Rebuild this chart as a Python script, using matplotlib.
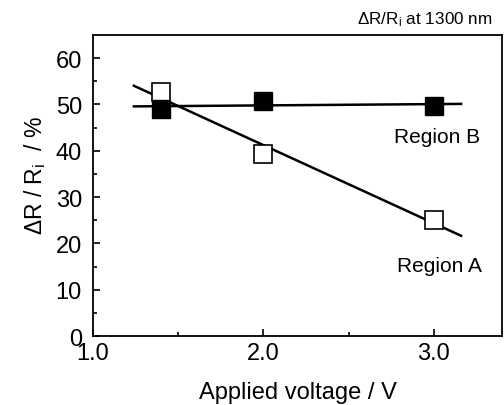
import numpy as np
import matplotlib
matplotlib.use("Agg")
import matplotlib.pyplot as plt

plt.rcParams['font.family'] = ['Liberation Sans', 'DejaVu Sans']
plt.rcParams['mathtext.fontset'] = 'custom'
plt.rcParams['mathtext.rm'] = 'Liberation Sans'
plt.rcParams['mathtext.it'] = 'Liberation Sans'

voltage = [1.4, 2.0, 3.0]
region_a = [52.6, 39.2, 25.1]
region_b = [49.0, 50.8, 49.7]
fit_range = [1.24, 3.16]

fig = plt.figure(figsize=(5.04, 4.06), dpi=100)
ax = fig.add_axes([93/504, 1-337/406, (502-93)/504, (337-36)/406])

xf = np.array(fit_range)
pa = np.polyfit(voltage, region_a, 1)
pb = np.polyfit(voltage, region_b, 1)
ax.plot(xf, np.polyval(pa, xf), color='black', lw=1.8, zorder=2)
ax.plot(xf, np.polyval(pb, xf), color='black', lw=1.8, zorder=2)

ax.plot(voltage, region_a, 's', ms=12.5, mfc='white', mec='black', mew=1.2, ls='none', zorder=3)
ax.plot(voltage, region_b, 's', ms=12.5, mfc='black', mec='black', ls='none', zorder=4)

ax.set_xlim(1.0, 3.4)
ax.set_ylim(0, 65)
ax.set_xticks([1.0, 2.0, 3.0])
ax.set_xticklabels(['1.0', '2.0', '3.0'])
ax.set_xticks([1.5, 2.5], minor=True)
ax.set_yticks([0, 10, 20, 30, 40, 50, 60])
ax.set_yticks([5, 15, 25, 35, 45, 55], minor=True)
ax.tick_params(which='both', direction='in', labelsize=17, width=1.2)
ax.tick_params(which='major', length=5)
ax.tick_params(which='minor', length=3)
ax.tick_params(axis='x', pad=4)
ax.tick_params(axis='y', pad=8)
for s in ax.spines.values():
    s.set_linewidth(1.3)

ax.set_xlabel('Applied voltage / V', fontsize=17, labelpad=12.5)
ax.set_ylabel(r'$\Delta$R / R$_\mathrm{i}$  / %', fontsize=16.5)
ax.yaxis.set_label_coords(-0.111, 0.535)

ax.text(3.02, 43.0, 'Region B', fontsize=15, ha='center', va='center')
ax.text(3.03, 15.3, 'Region A', fontsize=15, ha='center', va='center')

fig.text(493/504, 1-20/406, r'$\Delta$R/R$_\mathrm{i}$ at 1300 nm', fontsize=12.3, ha='right', va='center')

fig.savefig('out.png', dpi=100)
